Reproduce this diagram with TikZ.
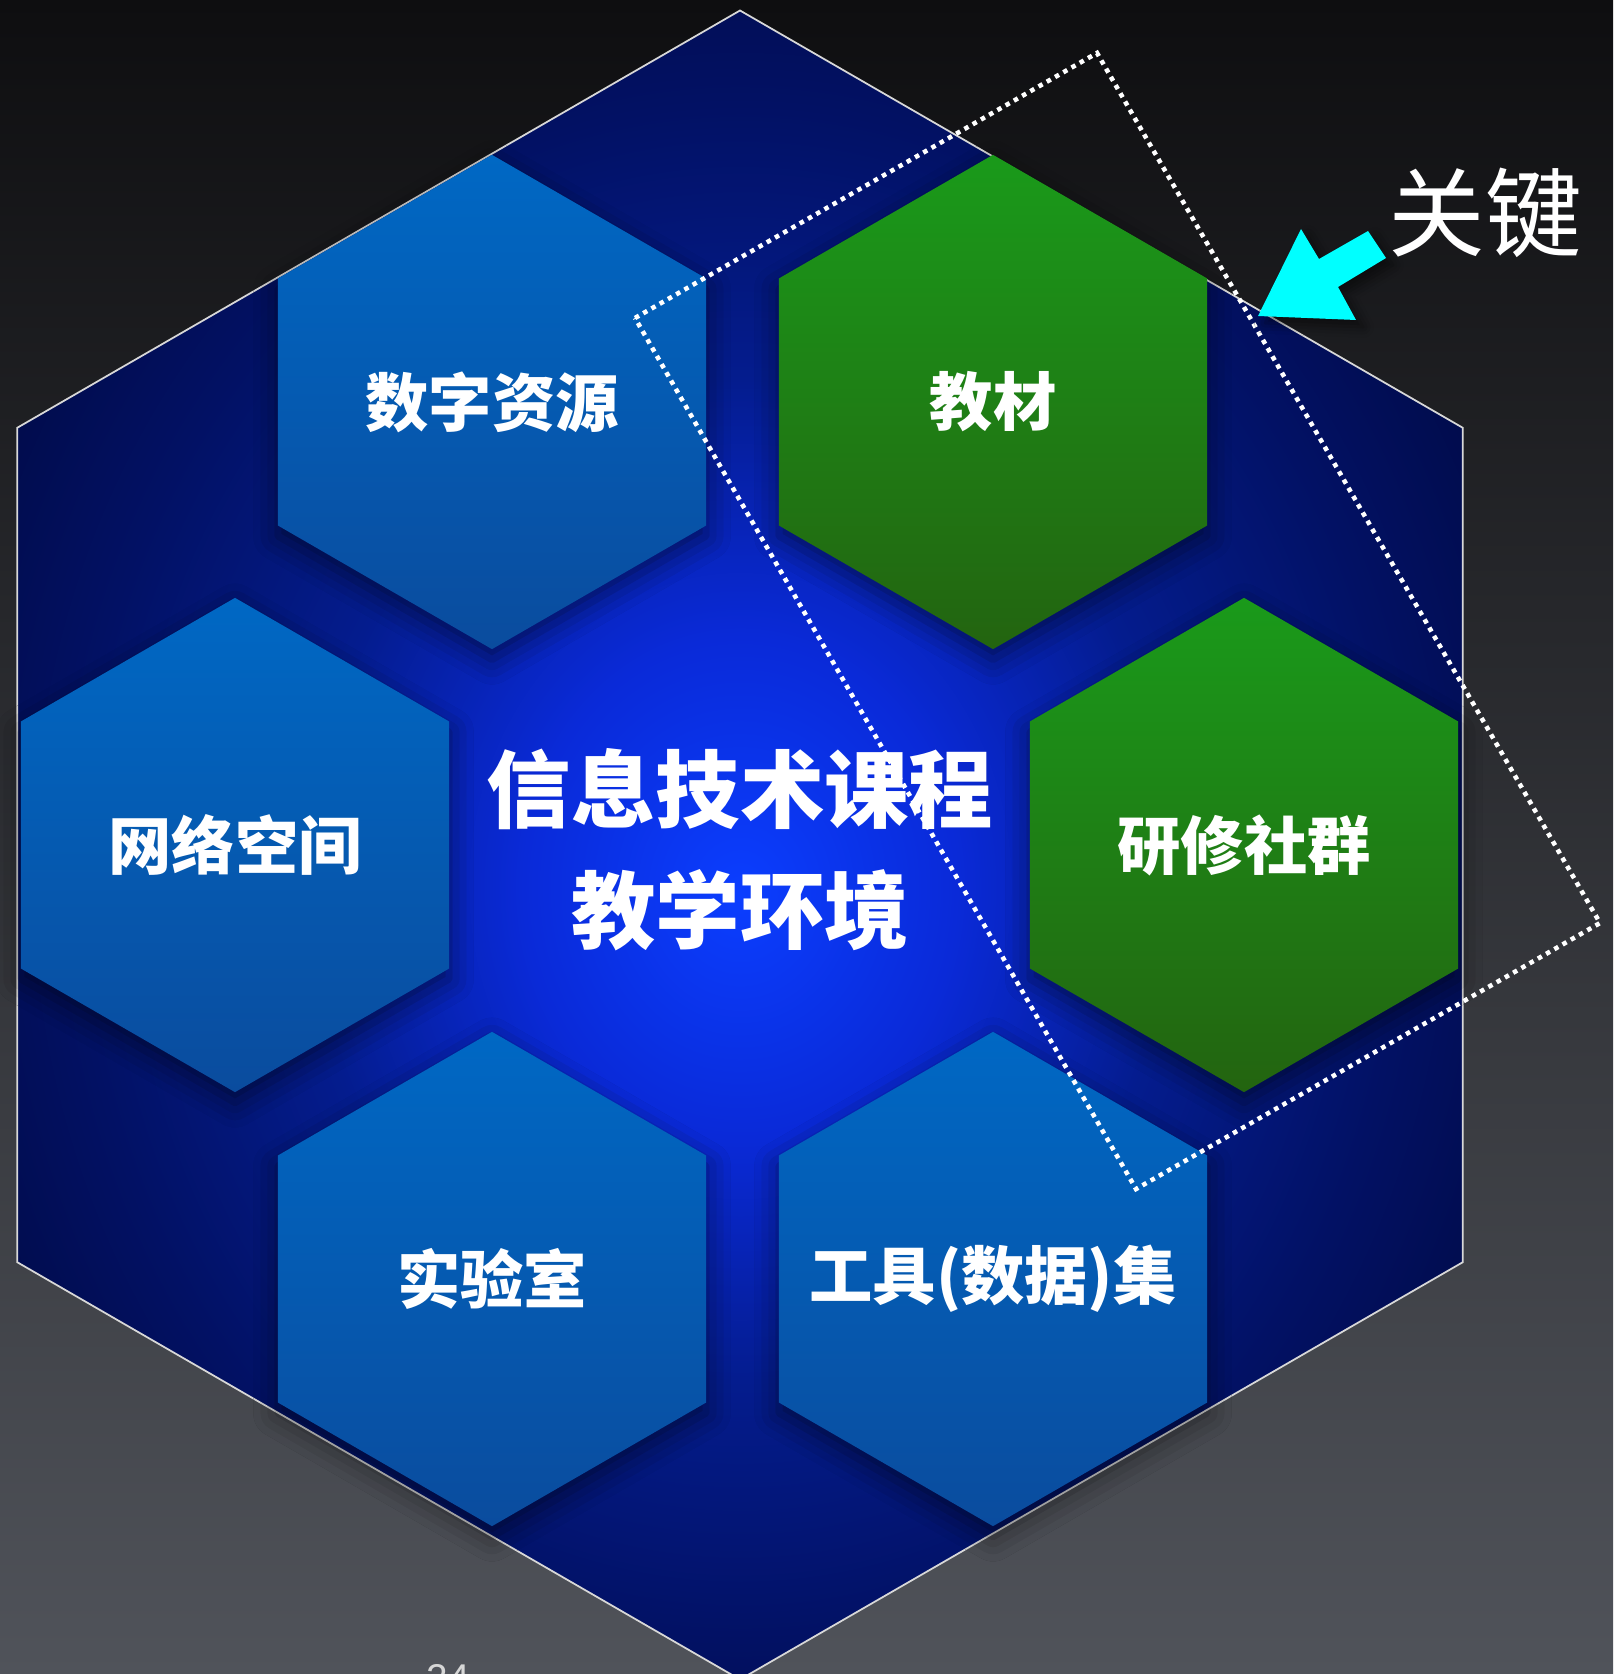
\documentclass[tikz,border=0pt]{standalone}
\usepackage{fontspec}
\newfontfamily\cjk{Noto Sans CJK SC}
\setsansfont{Liberation Sans}
\usetikzlibrary{shapes.geometric,shadows.blur}
\definecolor{bgtop}{HTML}{0E0E10}
\definecolor{bgbot}{HTML}{50535A}
\definecolor{hcA}{HTML}{0B3EFF}
\definecolor{hcB}{HTML}{0A2AD8}
\definecolor{hcC}{HTML}{041C8E}
\definecolor{hcD}{HTML}{021164}
\definecolor{hcE}{HTML}{010B4A}
\definecolor{hbT}{HTML}{0068C4}
\definecolor{hbB}{HTML}{0A4C9E}
\definecolor{hgT}{HTML}{1A9A1A}
\definecolor{hgB}{HTML}{236410}
\definecolor{bigedge}{HTML}{D8D8D8}
\definecolor{keycyan}{HTML}{00FFFF}
\definecolor{pagegray}{HTML}{D6D6D6}
\pgfdeclareradialshading{bighex}{\pgfpoint{0bp}{-1.5bp}}{color(0bp)=(hcA); color(7.5bp)=(hcB); color(15bp)=(hcC); color(23bp)=(hcD); color(29bp)=(hcE); color(50bp)=(hcE)}
\tikzset{
  hexbase/.style={regular polygon, regular polygon sides=6, regular polygon rotate=30,
    minimum size=4.94cm, inner sep=0pt,
    blur shadow={shadow xshift=0pt, shadow yshift=-3pt, shadow blur radius=7pt, shadow opacity=50}},
  bluehex/.style={hexbase, top color=hbT, bottom color=hbB},
  greenhex/.style={hexbase, top color=hgT, bottom color=hgB},
  hexlabel/.style={text=white, inner sep=0pt, font=\cjk\bfseries\fontsize{18}{22}\selectfont},
  keyframe/.style={draw=white, line width=1.3pt, dash pattern=on 1.3pt off 1.4pt},
}
\begin{document}
\begin{tikzpicture}[x=0.01cm, y=-0.01cm]
\useasboundingbox (0,0) rectangle (1613,1674);
\fill[top color=bgtop, bottom color=bgbot] (0,0) rectangle (1613,1674);
% big hexagon
\node[regular polygon, regular polygon sides=6, regular polygon rotate=30,
  minimum size=16.68cm, inner sep=0pt, shade, shading=bighex,
  draw=bigedge, line width=0.5pt] (big) at (740,845) {};
% small hexagons
\node[bluehex] (szzy) at (492,402) {};
\node[greenhex] (jc) at (993,402) {};
\node[bluehex] (wlkj) at (235,845) {};
\node[greenhex] (yxsq) at (1244,845) {};
\node[bluehex] (syz) at (492,1279) {};
\node[bluehex] (gjj) at (993,1279) {};
\node[hexlabel] (szzyT) at (szzy) {数字资源};
\node[hexlabel] (jcT) at (jc) {教材};
\node[hexlabel] (wlkjT) at (wlkj) {网络空间};
\node[hexlabel] (yxsqT) at (yxsq) {研修社群};
\node[hexlabel] (syzT) at (syz) {实验室};
\node[hexlabel] (gjjT) at (gjj) {工具(数据)集};
% center title
\node[text=white, align=center, font=\cjk\bfseries\fontsize{24}{34.4}\selectfont] (title) at (740,850) {信息技术课程\\教学环境};
% dashed key frame
\coordinate (r1) at (635,318);
\coordinate (r2) at (1097,53);
\coordinate (r3) at (1600,923);
\coordinate (r4) at (1136,1189);
\draw[keyframe] (r1) -- (r2) -- (r3) -- (r4) -- cycle;
% arrow
\fill[keycyan, blur shadow={shadow xshift=2pt, shadow yshift=-2pt, shadow blur radius=3pt, shadow opacity=50}]
  (1368,231) -- (1386,258) -- (1338,287) -- (1356,320) -- (1258,316) -- (1301,229) -- (1319,259) -- cycle;
\node[text=white, font=\cjk\fontsize{27.5}{30}\selectfont] (key) at (1485,213) {关键};
% page number (mostly cut off, as in the reference)
\node[text=pagegray, anchor=base, inner sep=0pt, font=\sffamily\fontsize{11}{13}\selectfont] (pg) at (448,1691) {24};
\end{tikzpicture}
\end{document}
